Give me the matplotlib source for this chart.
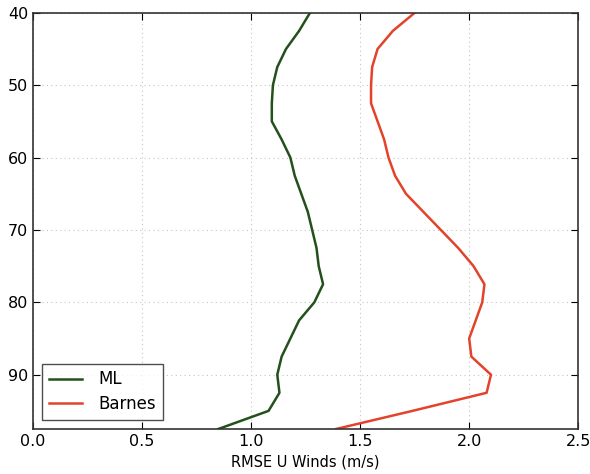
import numpy as np
import matplotlib
matplotlib.use("Agg")
import matplotlib.pyplot as plt

# уровни (по вертикали) и RMSE для двух методов
levels = [40, 42.5, 45, 47.5, 50, 52.5, 55, 57.5, 60, 62.5, 65, 67.5,
          70, 72.5, 75, 77.5, 80, 82.5, 85, 87.5, 90, 92.5, 95, 97.5]
rmse_ml = [1.27, 1.22, 1.16, 1.12, 1.10, 1.095, 1.095, 1.14, 1.18, 1.20, 1.23, 1.26,
           1.28, 1.30, 1.31, 1.33, 1.29, 1.22, 1.18, 1.14, 1.12, 1.13, 1.08, 0.85]
rmse_barnes = [1.75, 1.65, 1.58, 1.555, 1.55, 1.55, 1.58, 1.61, 1.63, 1.66, 1.71, 1.79,
               1.87, 1.95, 2.02, 2.07, 2.06, 2.03, 2.00, 2.01, 2.10, 2.08, 1.74, 1.39]

fig = plt.figure(figsize=(5.9, 4.74), dpi=100)
ax = fig.add_axes([0.056, 0.095, 0.924, 0.878])

ax.plot(rmse_ml, levels, color='#24501c', lw=1.8, label='ML')
ax.plot(rmse_barnes, levels, color='#e2432a', lw=1.8, label='Barnes')

ax.set_xlim(0, 2.5)
ax.set_ylim(97.5, 40)
ax.set_xticks(np.arange(0, 2.51, 0.5))
ax.set_yticks(np.arange(40, 91, 10))
ax.grid(True, color='#c4c4c4', linestyle=(0, (1, 3)), linewidth=0.8)
ax.tick_params(direction='in', top=True, right=True, length=5, labelsize=11.5)
for s in ax.spines.values():
    s.set_color('#333333')
    s.set_linewidth(1.2)

ax.set_xlabel('RMSE U Winds (m/s)', fontsize=10.5, labelpad=4)
leg = ax.legend(loc='lower left', fontsize=12, fancybox=False, frameon=True,
                handlelength=2.0, borderpad=0.4, labelspacing=0.4,
                handletextpad=1.0, borderaxespad=0.55)
leg.get_frame().set_edgecolor('#222222')
leg.get_frame().set_linewidth(1.0)

fig.savefig('out.png', dpi=100)
